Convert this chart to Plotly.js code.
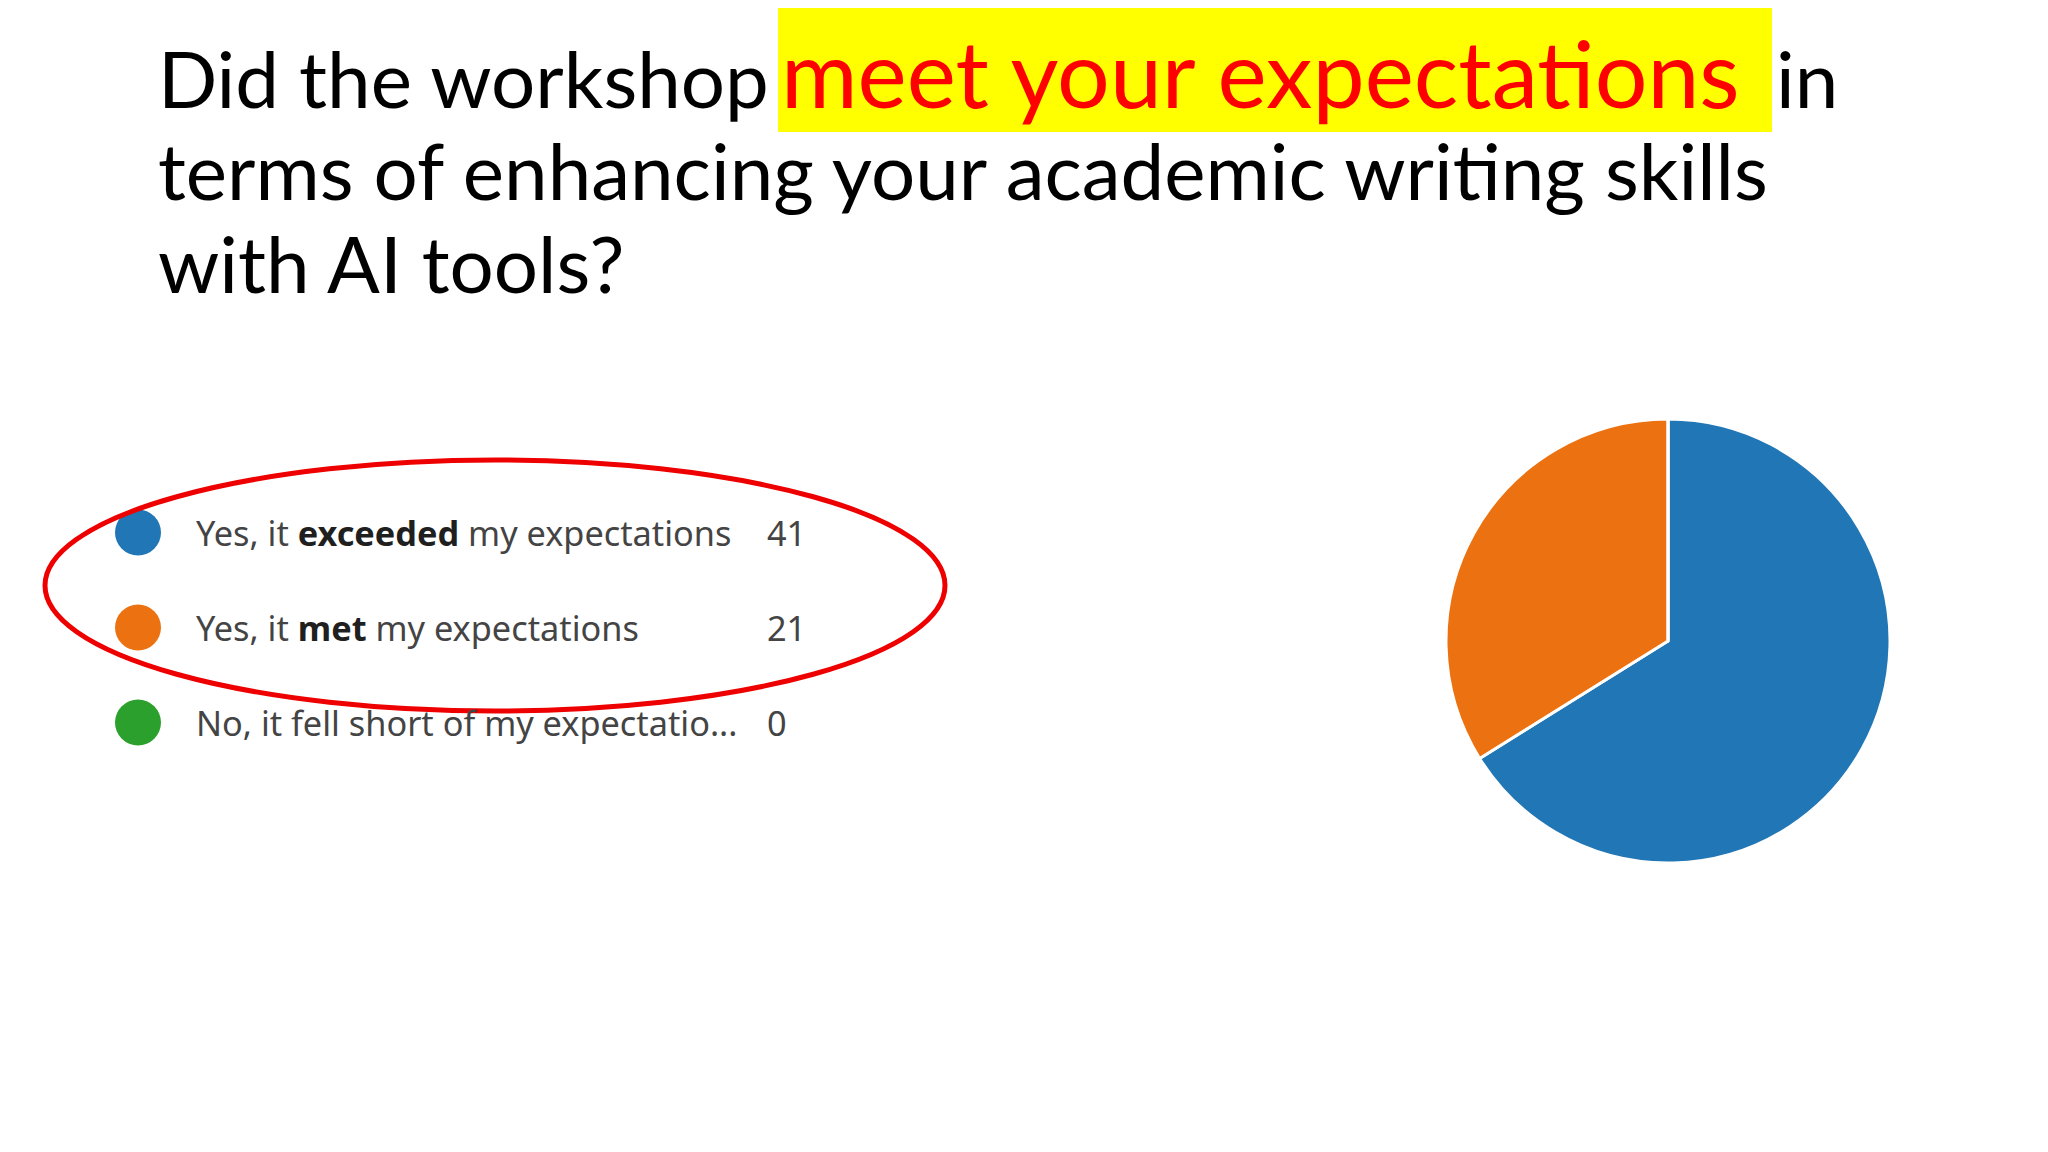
<!DOCTYPE html>
<html>
<head>
<meta charset="utf-8">
<script src="https://cdn.plot.ly/plotly-3.0.1.min.js"></script>
<style>html,body{margin:0;padding:0;background:#fff;}#chart{width:2048px;height:1152px;}</style>
</head>
<body>
<div id="chart"></div>
<script>
// ---------------- data ----------------
const titleLine1Parts = ["Did the workshop", "meet your expectations", "in"];
const titleLine2 = "terms of enhancing your academic writing skills";
const titleLine3 = "with AI tools?";
const categories = ["Yes, it exceeded my expectations", "Yes, it met my expectations", "No, it fell short of my expectations"];
const legendLabels = ["Yes, it <b>exceeded</b> my expectations", "Yes, it <b>met</b> my expectations", "No, it fell short of my expectatio..."];
const counts = [41, 21, 0];
const sliceColors = ["#2176b5", "#ec7211", "#2ca02c"];

// ---------------- layout helpers ----------------
const W = 2048, H = 1152;
const px = x => x / W;
const py = y => 1 - y / H;

const cv = document.createElement('canvas').getContext('2d');
function measure(text, size, family, weight) {
  cv.font = (weight || 'normal') + ' ' + size + 'px ' + family;
  return cv.measureText(text);
}
function htmlWidth(html, size, family) {
  let w = 0;
  const parts = html.split(/(<b>.*?<\/b>)/);
  parts.forEach(p => {
    if (!p) return;
    if (p.startsWith('<b>')) w += measure(p.replace(/<\/?b>/g, ''), size, family, 'bold').width;
    else w += measure(p, size, family).width;
  });
  return w;
}
function centerOffset(size, family) {
  const m = measure('Hg', size, family);
  const a = m.fontBoundingBoxAscent, d = m.fontBoundingBoxDescent;
  return (a - d) / 2; // distance from baseline up to bbox centre
}
function fitSize(text, target, family) {
  return Math.round(100 * target / measure(text, 100, family).width * 10) / 10;
}

const titleFamily = 'Lato, "Open Sans", sans-serif';
const titleSize = fitSize(titleLine2, 1616, 'Lato');
const redSize = fitSize(titleLine1Parts[1], 963, 'Lato');

const legFamily = '"Noto Sans", "Open Sans", sans-serif';
const legSize = Math.round(100 * 536 / htmlWidth(legendLabels[0], 100, '"Noto Sans"') * 10) / 10;

const annotations = [];
function titleAnn(text, xLeft, baseline, color, size) {
  const s = size || titleSize;
  annotations.push({
    text: text, xref: 'paper', yref: 'paper', x: px(xLeft - 2), y: py(baseline - centerOffset(s, 'Lato')),
    xanchor: 'left', yanchor: 'middle', showarrow: false,
    font: {family: titleFamily, size: s, color: color}
  });
}
titleAnn(titleLine1Parts[0], 158, 108, '#000000');
titleAnn(titleLine1Parts[1], 781, 108, '#ff0000', redSize);
titleAnn(titleLine1Parts[2], 1776, 108, '#000000');
titleAnn(titleLine2, 158, 200, '#000000');
titleAnn(titleLine3, 158, 293, '#000000');

// legend labels and counts placed on the legend axes (y = category)
legendLabels.forEach((lab, i) => {
  annotations.push({
    text: lab.replace(/<b>(.*?)<\/b>/, '<b><span style="color:#1f1f1f">$1</span></b>'),
    xref: 'x', yref: 'y', x: 194, y: categories[i],
    xanchor: 'left', yanchor: 'middle', showarrow: false,
    font: {family: legFamily, size: legSize, color: '#444444'}
  });
  annotations.push({
    text: String(counts[i]),
    xref: 'x', yref: 'y', x: 765, y: categories[i],
    xanchor: 'left', yanchor: 'middle', showarrow: false,
    font: {family: legFamily, size: legSize, color: '#444444'}
  });
});

const data = [
  {
    type: 'pie',
    labels: categories, values: counts,
    marker: {colors: sliceColors, line: {color: '#ffffff', width: 3}},
    sort: false, direction: 'clockwise', rotation: 0,
    textinfo: 'none', hoverinfo: 'label+value', showlegend: false,
    domain: {x: [px(1446), px(1890)], y: [py(863), py(419)]}
  },
  {
    type: 'scatter', mode: 'markers',
    x: categories.map(() => 138), y: categories,
    marker: {size: 46, color: sliceColors},
    hoverinfo: 'skip', showlegend: false, xaxis: 'x', yaxis: 'y'
  }
];

const layout = {
  width: W, height: H,
  margin: {l: 0, r: 0, t: 0, b: 0, pad: 0},
  paper_bgcolor: '#ffffff', plot_bgcolor: 'rgba(0,0,0,0)',
  showlegend: false,
  xaxis: {domain: [0, 1], range: [0, W], visible: false, fixedrange: true},
  yaxis: {domain: [py(770), py(485)], type: 'category', categoryarray: categories,
          range: [2.5, -0.5], visible: false, fixedrange: true},
  shapes: [
    {type: 'rect', xref: 'paper', yref: 'paper', layer: 'below',
     x0: px(778), x1: px(1772), y0: py(132), y1: py(8),
     fillcolor: '#ffff00', line: {width: 0}},
    {type: 'circle', xref: 'paper', yref: 'paper', layer: 'above',
     x0: px(45), x1: px(945), y0: py(711), y1: py(460),
     line: {color: '#ee0000', width: 5}}
  ],
  annotations: annotations
};

Plotly.newPlot('chart', data, layout, {displayModeBar: false, staticPlot: true});
</script>
</body>
</html>
